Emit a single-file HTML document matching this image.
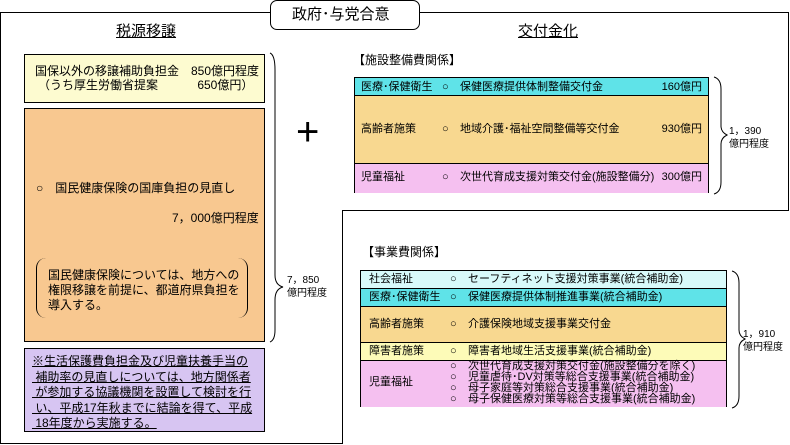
<!DOCTYPE html>
<html><head><meta charset="utf-8"><style>
body{margin:0;width:790px;height:445px;background:#fff;position:relative;overflow:hidden;font-family:"Liberation Sans","Noto Sans CJK JP",sans-serif;color:#000}
.a{position:absolute}
.box{position:absolute;border:1px solid #000;box-sizing:border-box}
.t{position:absolute;white-space:nowrap;font-size:11px;line-height:14px}
.r{position:absolute;white-space:nowrap;font-size:11px;line-height:14px;text-align:right;width:80px}
.row{position:absolute;left:0;right:0;border-bottom:1px solid #000;box-sizing:border-box}
</style></head><body>
<!-- frames -->
<div class="a" style="left:0;top:12px;width:272px;height:1px;background:#000"></div>
<div class="a" style="left:0;top:12px;width:1px;height:432px;background:#000"></div>
<div class="a" style="left:0;top:443px;width:343px;height:1px;background:#000"></div>
<div class="a" style="left:342px;top:210px;width:1px;height:234px;background:#000"></div>
<div class="a" style="left:342px;top:210px;width:447px;height:1px;background:#000"></div>
<div class="a" style="left:788px;top:12px;width:1px;height:199px;background:#000"></div>
<div class="a" style="left:418px;top:12px;width:371px;height:1px;background:#000"></div>
<div class="box" style="left:270px;top:0;width:150px;height:30px;border-radius:7px;background:#fff"></div>
<div class="t" style="left:292px;top:6px;font-size:15px;line-height:18px">政府･与党合意</div>
<div class="t" style="left:116px;top:23px;font-size:15px;line-height:18px;text-decoration:underline">税源移譲</div>
<div class="t" style="left:518px;top:23px;font-size:15px;line-height:18px;text-decoration:underline">交付金化</div>

<!-- left boxes -->
<div class="box" style="left:24px;top:54px;width:241px;height:49px;background:#fdfbd0"></div>
<div class="t" style="left:35px;top:64px;font-size:12px">国保以外の移譲補助負担金　850億円程度</div>
<div class="t" style="left:38px;top:78px;font-size:12px">（うち厚生労働省提案　　　 650億円）</div>
<div class="box" style="left:24px;top:108px;width:241px;height:234px;background:#f8c890"></div>
<div class="t" style="left:36px;top:181px;font-size:12px">○　国民健康保険の国庫負担の見直し</div>
<div class="t" style="left:172px;top:211px;font-size:12px">7，000億円程度</div>
<div class="box" style="left:36px;top:258px;width:212px;height:60px;border:none;border-left:1px solid #000;border-right:1px solid #000;border-radius:10px"></div>
<div class="t" style="left:48px;top:268px;font-size:12px;line-height:15px">国民健康保険については、地方への<br>権限移譲を前提に、都道府県負担を<br>導入する。</div>
<div class="box" style="left:24px;top:348px;width:241px;height:84px;background:#d7c5f2"></div>
<div class="t" style="left:32px;top:354px;font-size:12px;line-height:15.5px;text-decoration:underline">※生活保護費負担金及び児童扶養手当の<br>&nbsp;補助率の見直しについては、地方関係者<br>&nbsp;が参加する協議機関を設置して検討を行<br>&nbsp;い、平成17年秋までに結論を得て、平成<br>&nbsp;18年度から実施する。</div>
<svg class="a" style="left:265px;top:50px" width="25" height="295"><path d="M5 3 Q10 5 10 20 L10 225 Q10 235 18 237 Q10 239 10 250 L10 280 Q10 290 5 292" fill="none" stroke="#000"/></svg>
<div class="t" style="left:287px;top:274px;font-size:10px;line-height:13px">7，850<br>億円程度</div>
<div class="t" style="left:296px;top:112px;font-size:40px;line-height:40px;font-weight:300">+</div>

<!-- top right -->
<div class="t" style="left:353px;top:53px;font-size:12px">【施設整備費関係】</div>
<div class="box" style="left:354px;top:77px;width:355px;height:116px">
<div class="row" style="top:0;height:18px;background:#5fe3e8"></div>
<div class="row" style="top:18px;height:68px;background:#f8d890"></div>
<div class="row" style="top:86px;height:29px;background:#f5c0f0;border:none"></div>
</div>
<div class="t" style="left:361px;top:80px">医療･保健衛生</div><div class="t" style="left:442px;top:80px">○</div><div class="t" style="left:460px;top:80px">保健医療提供体制整備交付金</div><div class="r" style="left:622px;top:80px">160億円</div>
<div class="t" style="left:361px;top:122px">高齢者施策</div><div class="t" style="left:442px;top:122px">○</div><div class="t" style="left:460px;top:122px">地域介護･福祉空間整備等交付金</div><div class="r" style="left:622px;top:122px">930億円</div>
<div class="t" style="left:361px;top:170px">児童福祉</div><div class="t" style="left:442px;top:170px">○</div><div class="t" style="left:460px;top:170px">次世代育成支援対策交付金(施設整備分)</div><div class="r" style="left:622px;top:170px">300億円</div>
<svg class="a" style="left:709px;top:74px" width="25" height="122"><path d="M5 3 Q12 5 12 15 L12 52 Q12 58 18 61 Q12 64 12 70 L12 108 Q12 118 5 120" fill="none" stroke="#000"/></svg>
<div class="t" style="left:729px;top:125px;font-size:10px;line-height:13px">1，390<br>億円程度</div>

<!-- bottom right -->
<div class="t" style="left:362px;top:245px;font-size:12px">【事業費関係】</div>
<div class="box" style="left:360px;top:270px;width:367px;height:137px">
<div class="row" style="top:0;height:18px;background:#d8fafa"></div>
<div class="row" style="top:18px;height:18px;background:#5fe3e8"></div>
<div class="row" style="top:36px;height:36px;background:#f8d890"></div>
<div class="row" style="top:72px;height:18px;background:#fdfbb8"></div>
<div class="row" style="top:90px;height:46px;background:#f5c0f0;border:none"></div>
</div>
<div class="t" style="left:369px;top:272px">社会福祉</div><div class="t" style="left:450px;top:272px">○</div><div class="t" style="left:468px;top:272px">セーフティネット支援対策事業(統合補助金)</div>
<div class="t" style="left:369px;top:290px">医療･保健衛生</div><div class="t" style="left:450px;top:290px">○</div><div class="t" style="left:468px;top:290px">保健医療提供体制推進事業(統合補助金)</div>
<div class="t" style="left:369px;top:317px">高齢者施策</div><div class="t" style="left:450px;top:317px">○</div><div class="t" style="left:468px;top:317px">介護保険地域支援事業交付金</div>
<div class="t" style="left:369px;top:344px">障害者施策</div><div class="t" style="left:450px;top:344px">○</div><div class="t" style="left:468px;top:344px">障害者地域生活支援事業(統合補助金)</div>
<div class="t" style="left:369px;top:375px">児童福祉</div>
<div class="t" style="left:450px;top:361px;line-height:11px">○<br>○<br>○<br>○</div>
<div class="t" style="left:468px;top:361px;line-height:11px">次世代育成支援対策交付金(施設整備分を除く)<br>児童虐待･DV対策等総合支援事業(統合補助金)<br>母子家庭等対策総合支援事業(統合補助金)<br>母子保健医療対策等総合支援事業(統合補助金)</div>
<svg class="a" style="left:727px;top:268px" width="25" height="142"><path d="M5 3 Q12 5 12 15 L12 62 Q12 68 18 71 Q12 74 12 80 L12 128 Q12 138 5 140" fill="none" stroke="#000"/></svg>
<div class="t" style="left:743px;top:328px;font-size:10px;line-height:13px">1，910<br>億円程度</div>
</body></html>
